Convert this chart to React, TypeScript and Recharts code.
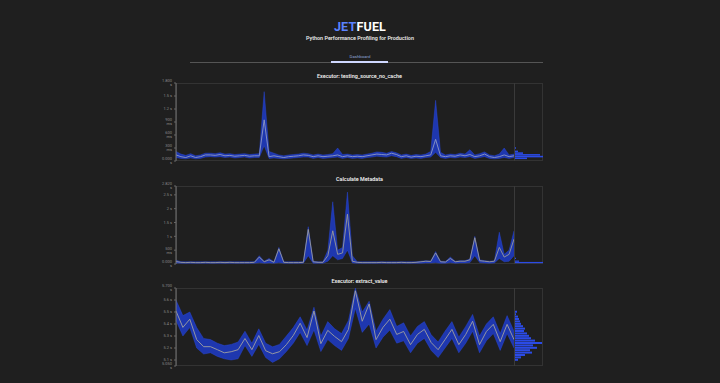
import React from "react";
import { ComposedChart, Area, Line, Bar, XAxis, YAxis } from "recharts";

// Executor: testing_source_no_cache
const c1Mid = [
  0.14, 0.1, 0.08, 0.12, 0.08, 0.1, 0.14, 0.14, 0.13, 0.15,
  0.12, 0.13, 0.11, 0.12, 0.13, 0.11, 0.12, 0.12, 0.95, 0.1,
  0.12, 0.1, 0.08, 0.1, 0.11, 0.12, 0.14, 0.13, 0.1, 0.12,
  0.1, 0.11, 0.12, 0.14, 0.1, 0.12, 0.1, 0.11, 0.1, 0.12,
  0.14, 0.16, 0.15, 0.14, 0.18, 0.15, 0.1, 0.12, 0.09, 0.11,
  0.1, 0.12, 0.14, 0.5, 0.12, 0.1, 0.12, 0.11, 0.14, 0.12,
  0.15, 0.1, 0.12, 0.16, 0.1, 0.08, 0.1, 0.14, 0.1, 0.12,
];
const c1Lo = [
  0.08, 0.06, 0.05, 0.07, 0.05, 0.06, 0.09, 0.1, 0.09, 0.1,
  0.08, 0.09, 0.07, 0.08, 0.09, 0.07, 0.08, 0.08, 0.35, 0.06,
  0.07, 0.06, 0.05, 0.06, 0.07, 0.08, 0.09, 0.09, 0.06, 0.08,
  0.06, 0.07, 0.08, 0.09, 0.06, 0.08, 0.06, 0.07, 0.06, 0.08,
  0.09, 0.11, 0.1, 0.09, 0.12, 0.1, 0.06, 0.08, 0.06, 0.07,
  0.06, 0.08, 0.09, 0.2, 0.08, 0.06, 0.08, 0.07, 0.09, 0.08,
  0.1, 0.06, 0.08, 0.1, 0.06, 0.05, 0.06, 0.08, 0.06, 0.08,
];
const c1Hi = [
  0.22, 0.16, 0.13, 0.17, 0.12, 0.14, 0.18, 0.18, 0.17, 0.19,
  0.16, 0.17, 0.15, 0.16, 0.17, 0.15, 0.16, 0.17, 1.6, 0.22,
  0.18, 0.14, 0.12, 0.14, 0.15, 0.16, 0.18, 0.17, 0.14, 0.16,
  0.14, 0.15, 0.17, 0.3, 0.15, 0.16, 0.14, 0.15, 0.14, 0.16,
  0.18, 0.21, 0.2, 0.18, 0.22, 0.19, 0.14, 0.16, 0.13, 0.15,
  0.14, 0.16, 0.22, 1.4, 0.2, 0.14, 0.16, 0.15, 0.18, 0.16,
  0.26, 0.14, 0.17, 0.21, 0.14, 0.12, 0.16, 0.3, 0.14, 0.16,
];
const c1Ticks = [0, 0.3, 0.6, 0.9, 1.2, 1.5, 1.8];
const c1HistBins = [0.06, 0.1, 0.14, 0.18, 0.22, 0.3];
const c1HistCounts = [12, 28, 25, 8, 3, 1];

// Calculate Metadata
const c2Mid = [
  0.09, 0.06, 0.05, 0.06, 0.05, 0.05, 0.06, 0.05, 0.05, 0.06,
  0.05, 0.06, 0.05, 0.05, 0.05, 0.05, 0.06, 0.25, 0.08, 0.15,
  0.06, 0.55, 0.06, 0.05, 0.05, 0.05, 0.06, 1.25, 0.08, 0.06,
  0.06, 0.3, 1.2, 0.35, 0.4, 1.8, 0.1, 0.06, 0.05, 0.05,
  0.05, 0.05, 0.06, 0.05, 0.05, 0.05, 0.06, 0.05, 0.05, 0.06,
  0.08, 0.1, 0.09, 0.4, 0.08, 0.07, 0.2, 0.08, 0.1, 0.1,
  0.15, 0.95, 0.12, 0.1, 0.08, 0.1, 0.6, 0.25, 0.35, 0.9,
];
const c2Lo = [
  0.04, 0.03, 0.03, 0.03, 0.03, 0.03, 0.03, 0.03, 0.03, 0.03,
  0.03, 0.03, 0.03, 0.03, 0.03, 0.03, 0.03, 0.05, 0.03, 0.04,
  0.03, 0.05, 0.03, 0.03, 0.03, 0.03, 0.03, 0.3, 0.03, 0.03,
  0.03, 0.1, 0.3, 0.15, 0.2, 0.5, 0.04, 0.03, 0.03, 0.03,
  0.03, 0.03, 0.03, 0.03, 0.03, 0.03, 0.03, 0.03, 0.03, 0.03,
  0.03, 0.04, 0.04, 0.05, 0.03, 0.03, 0.05, 0.03, 0.04, 0.04,
  0.05, 0.3, 0.05, 0.04, 0.03, 0.04, 0.2, 0.08, 0.1, 0.3,
];
const c2Hi = [
  0.14, 0.08, 0.08, 0.08, 0.08, 0.08, 0.08, 0.08, 0.08, 0.08,
  0.08, 0.08, 0.08, 0.08, 0.08, 0.08, 0.08, 0.3, 0.1, 0.2,
  0.08, 0.6, 0.08, 0.08, 0.08, 0.08, 0.08, 1.35, 0.1, 0.08,
  0.08, 0.5, 2.25, 0.5, 0.6, 2.6, 0.3, 0.08, 0.08, 0.08,
  0.08, 0.08, 0.08, 0.08, 0.08, 0.08, 0.08, 0.08, 0.08, 0.08,
  0.1, 0.12, 0.11, 0.45, 0.1, 0.09, 0.25, 0.1, 0.12, 0.12,
  0.18, 1.0, 0.15, 0.12, 0.1, 0.12, 1.15, 0.35, 0.5, 1.2,
];
const c2Ticks = [0, 0.5, 1, 1.5, 2, 2.5, 2.82];
const c2HistBins = [0.05, 0.1, 0.2];
const c2HistCounts = [28, 4, 1];

// Executor: extract_value
const c3Mid = [
  5.508, 5.372, 5.44, 5.27, 5.211, 5.211, 5.186, 5.16, 5.169, 5.186,
  5.279, 5.186, 5.304, 5.177, 5.152, 5.169, 5.228, 5.304, 5.406, 5.287,
  5.508, 5.236, 5.347, 5.296, 5.253, 5.355, 5.677, 5.423, 5.567, 5.27,
  5.372, 5.44, 5.313, 5.338, 5.228, 5.313, 5.355, 5.245, 5.186, 5.27,
  5.355, 5.228, 5.313, 5.423, 5.228, 5.338, 5.397, 5.253, 5.397, 5.27,
];
const c3Lo = [
  5.43, 5.3, 5.37, 5.2, 5.15, 5.16, 5.13, 5.11, 5.1, 5.11,
  5.22, 5.13, 5.23, 5.12, 5.08, 5.11, 5.17, 5.24, 5.33, 5.22,
  5.35, 5.17, 5.27, 5.22, 5.18, 5.28, 5.53, 5.33, 5.4, 5.2,
  5.29, 5.35, 5.24, 5.26, 5.16, 5.24, 5.28, 5.18, 5.12, 5.2,
  5.28, 5.16, 5.24, 5.34, 5.16, 5.26, 5.32, 5.18, 5.32, 5.2,
];
const c3Hi = [
  5.6, 5.47, 5.5, 5.37, 5.28, 5.27, 5.24, 5.22, 5.23, 5.25,
  5.34, 5.24, 5.36, 5.24, 5.21, 5.23, 5.3, 5.37, 5.46, 5.35,
  5.54, 5.3, 5.42, 5.36, 5.32, 5.43, 5.7, 5.5, 5.59, 5.34,
  5.44, 5.52, 5.38, 5.41, 5.3, 5.38, 5.42, 5.31, 5.25, 5.34,
  5.42, 5.29, 5.38, 5.48, 5.3, 5.4, 5.46, 5.32, 5.47, 5.34,
];
const c3Ticks = [5.05, 5.1, 5.2, 5.3, 5.4, 5.5, 5.6, 5.7];
const c3HistBins = [
  5.5, 5.48, 5.46, 5.44, 5.42, 5.4, 5.38, 5.36, 5.34, 5.32, 5.3,
  5.28, 5.26, 5.24, 5.22, 5.2, 5.18, 5.16, 5.14, 5.12, 5.1,
];
const c3HistCounts = [
  2, 1, 3, 4, 5, 6, 8, 10, 9, 12, 14, 16, 20, 27, 18, 22, 15, 17, 10, 6, 3,
];

const BLUE = "#1f3cc9";
const EDGE = "#2b4be6";
const FONT = "Roboto, 'Noto Sans', sans-serif";

function rows(mid: number[], lo: number[], hi: number[]) {
  return mid.map((m, i) => ({ i, mid: m, band: [lo[i], hi[i]] }));
}

function hist(bins: number[], counts: number[]) {
  return bins.map((v, k) => ({ v, n: counts[k] }));
}

function fmtSec(ticks: number[]) {
  const first = ticks[0];
  const last = ticks[ticks.length - 1];
  return (v: number) => {
    if (v === first || v === last) return `${v.toFixed(3)} s`;
    if (v < 1 && v > 0) return `${Math.round(v * 1000)} ms`;
    return `${v} s`;
  };
}

interface PanelProps {
  title: string;
  top: number;
  mid: number[];
  lo: number[];
  hi: number[];
  ticks: number[];
  bins: number[];
  counts: number[];
  midColor: string;
}

function Panel({ title, top, mid, lo, hi, ticks, bins, counts, midColor }: PanelProps) {
  const data = rows(mid, lo, hi);
  const domain = [ticks[0], ticks[ticks.length - 1]];
  const pad = 5;
  const h = 78;
  return (
    <>
      <div
        style={{
          position: "absolute",
          left: 176,
          width: 367,
          top: top - 11,
          textAlign: "center",
          fontSize: 5.4,
          fontWeight: 600,
          color: "#eeeeee",
          fontFamily: FONT,
          lineHeight: "8px",
        }}
      >
        {title}
      </div>
      <div
        style={{
          position: "absolute",
          left: 176,
          top,
          width: 367,
          height: h,
          border: "1px solid #333",
          boxSizing: "border-box",
        }}
      />
      <div style={{ position: "absolute", left: 514, top, width: 1, height: h, background: "#3a3a3a" }} />
      <div style={{ position: "absolute", left: 130, top: top - pad }}>
        <ComposedChart width={384} height={h + pad * 2} data={data} margin={{ top: pad, right: 0, bottom: pad, left: 0 }}>
          <XAxis type="number" dataKey="i" domain={[0, mid.length - 1]} hide />
          <YAxis
            width={46}
            domain={domain}
            ticks={ticks}
            interval={0}
            tickFormatter={fmtSec(ticks)}
            tick={{ fontSize: 4, fill: "#8a8a8a", fontFamily: FONT }}
            tickSize={2}
            tickLine={{ stroke: "#666" }}
            axisLine={{ stroke: "#777" }}
            allowDataOverflow
          />
          <Area
            dataKey="band"
            type="linear"
            stroke={EDGE}
            strokeWidth={0.4}
            fill={BLUE}
            fillOpacity={0.85}
            isAnimationActive={false}
          />
          <Line dataKey="mid" type="linear" stroke={midColor} strokeWidth={0.9} dot={false} isAnimationActive={false} />
        </ComposedChart>
      </div>
      <div style={{ position: "absolute", left: 515, top: top - pad }}>
        <ComposedChart
          width={28}
          height={h + pad * 2}
          layout="vertical"
          data={hist(bins, counts)}
          margin={{ top: pad, right: 0, bottom: pad, left: 0 }}
        >
          <XAxis type="number" domain={[0, 28]} hide />
          <YAxis type="number" dataKey="v" domain={domain} reversed hide />
          <Bar dataKey="n" fill={EDGE} barSize={2} isAnimationActive={false} />
        </ComposedChart>
      </div>
    </>
  );
}

export default function App() {
  return (
    <div
      style={{
        position: "fixed",
        left: 0,
        top: 0,
        width: 720,
        height: 383,
        background: "#1f1f1f",
        fontFamily: FONT,
        overflow: "hidden",
      }}
    >
      <div
        style={{
          position: "absolute",
          left: 0,
          width: 720,
          top: 19,
          textAlign: "center",
          fontSize: 12.5,
          fontWeight: 700,
          lineHeight: "15px",
          letterSpacing: 0.2,
        }}
      >
        <span style={{ color: "#5b83ff" }}>JET</span>
        <span style={{ color: "#ffffff" }}>FUEL</span>
      </div>
      <div
        style={{
          position: "absolute",
          left: 0,
          width: 720,
          top: 34,
          textAlign: "center",
          fontSize: 5.4,
          fontWeight: 600,
          color: "#e8e8e8",
          lineHeight: "8px",
        }}
      >
        Python Performance Profiling for Production
      </div>
      <div
        style={{
          position: "absolute",
          left: 0,
          width: 720,
          top: 54,
          textAlign: "center",
          fontSize: 4.3,
          color: "#8fa6d6",
          lineHeight: "6px",
        }}
      >
        Dashboard
      </div>
      <div style={{ position: "absolute", left: 190, top: 61.5, width: 353, height: 1, background: "#555" }} />
      <div style={{ position: "absolute", left: 331, top: 61, width: 57, height: 1.5, background: "#cfd8ff" }} />
      <Panel title="Executor: testing_source_no_cache" top={83} mid={c1Mid} lo={c1Lo} hi={c1Hi} ticks={c1Ticks} bins={c1HistBins} counts={c1HistCounts} midColor="#8f98c4" />
      <Panel title="Calculate Metadata" top={186} mid={c2Mid} lo={c2Lo} hi={c2Hi} ticks={c2Ticks} bins={c2HistBins} counts={c2HistCounts} midColor="#9a9a9a" />
      <Panel title="Executor: extract_value" top={288} mid={c3Mid} lo={c3Lo} hi={c3Hi} ticks={c3Ticks} bins={c3HistBins} counts={c3HistCounts} midColor="#a0a0a0" />
    </div>
  );
}
